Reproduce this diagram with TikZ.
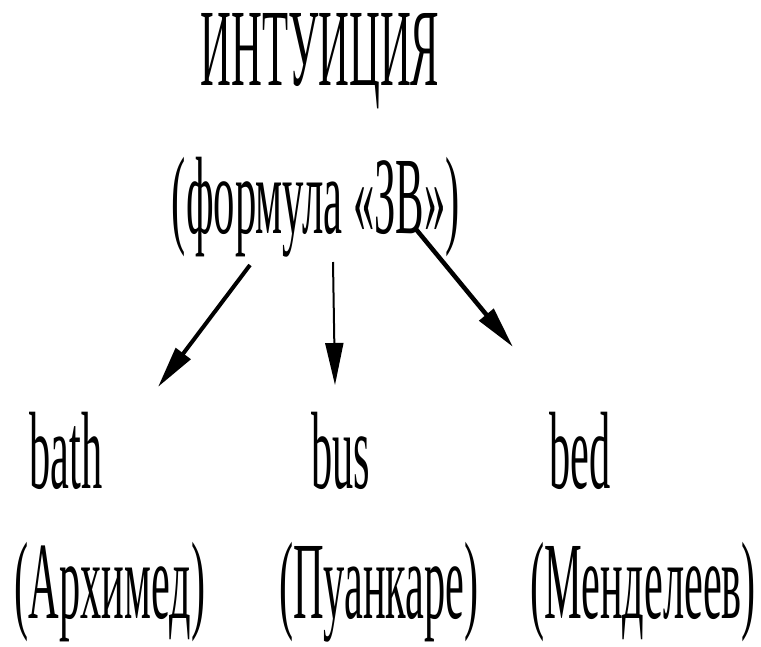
\documentclass[tikz,border=0pt]{standalone}
\usepackage{fontspec}
\setmainfont{Liberation Serif}
\usetikzlibrary{arrows.meta}
\newcommand\condtext[3]{\scalebox{#1}[1]{\fontsize{#2}{#2}\selectfont #3}}
\begin{document}
\begin{tikzpicture}[x=1pt,y=-1pt,
  lbl/.style={anchor=base,inner sep=0pt,outer sep=0pt},
  arr/.style={-{Triangle[length=42pt,width=18pt]},line width=#1},
  arr/.default=3pt]
\useasboundingbox (0,0) rectangle (761,646);
\node[lbl] (t1) at (320,85) {\condtext{0.388}{110pt}{ИНТУИЦИЯ}};
\node[lbl] (t2) at (316,233) {\condtext{0.388}{110pt}{(формула «ЗВ»)}};
\node[lbl] (a1) at (66,488) {\condtext{0.385}{110pt}{bath}};
\node[lbl] (b1) at (341,488) {\condtext{0.385}{110pt}{bus}};
\node[lbl] (c1) at (580,488) {\condtext{0.385}{110pt}{bed}};
\node[lbl] (a2) at (110,618) {\condtext{0.385}{110pt}{(Архимед)}};
\node[lbl] (b2) at (379,618) {\condtext{0.385}{110pt}{(Пуанкаре)}};
\node[lbl] (c2) at (643,618) {\condtext{0.385}{110pt}{(Менделеев)}};
\coordinate (s1) at (250,265);
\coordinate (e1) at (158,387);
\coordinate (s2) at (333,262);
\coordinate (e2) at (335,385);
\coordinate (s3) at (415,228);
\coordinate (e3) at (513,347);
\draw[arr=4pt] (s1) -- (e1);
\draw[arr=2pt] (s2) -- (e2);
\draw[arr=4.5pt] (s3) -- (e3);
\end{tikzpicture}
\end{document}
